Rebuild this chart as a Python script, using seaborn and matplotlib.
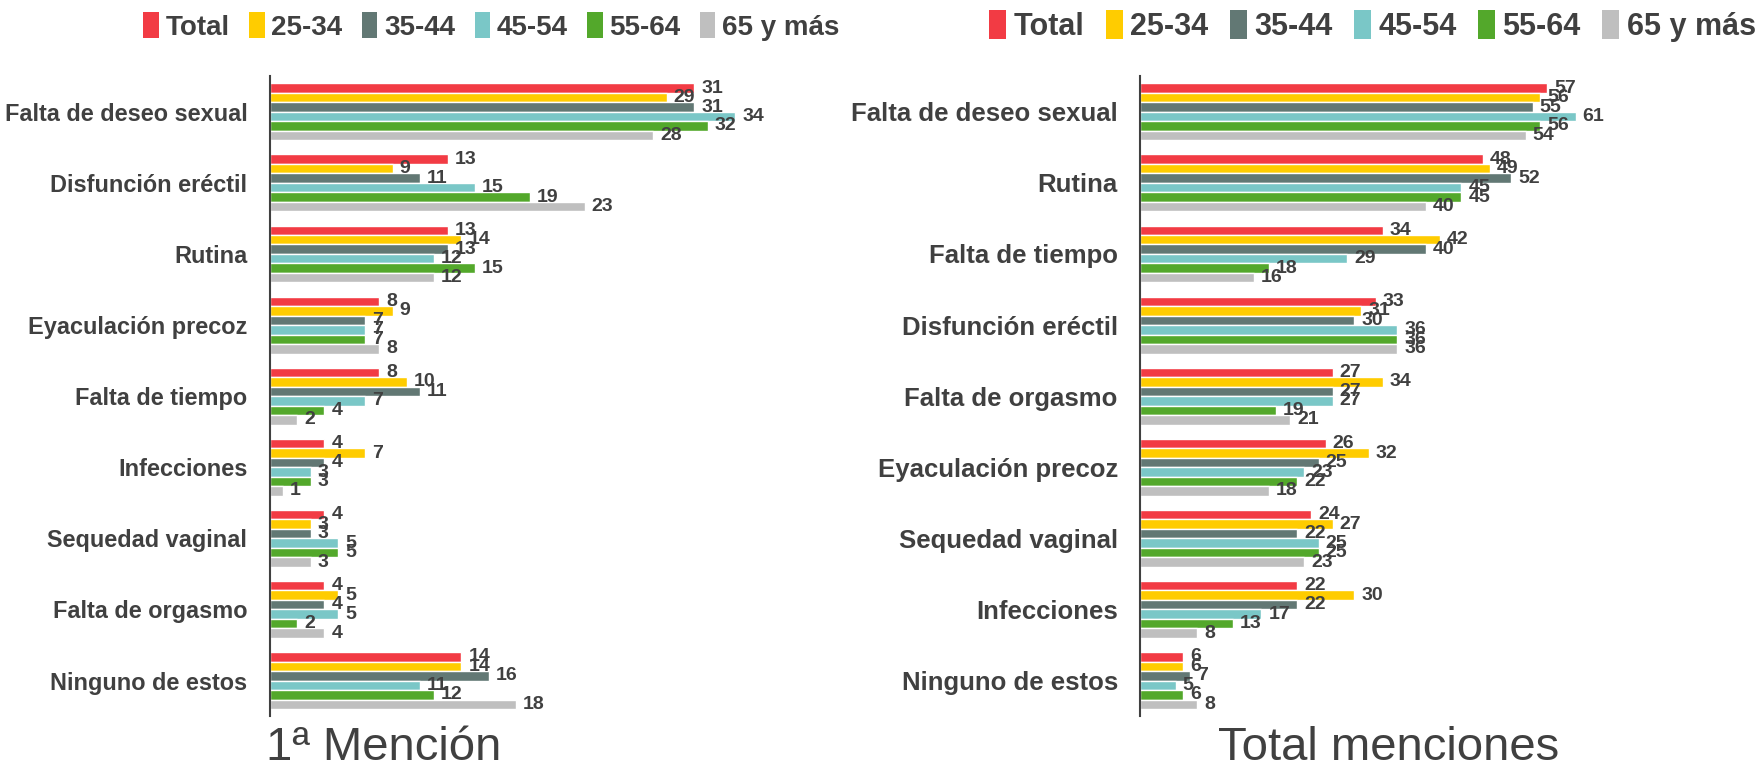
import pandas as pd
import numpy as np
import matplotlib
matplotlib.use("Agg")
import matplotlib.pyplot as plt
import seaborn as sns
from matplotlib.patches import Patch

# ===============================
# DATA
# ===============================

groups = ["Total", "25-34", "35-44", "45-54", "55-64", "65 y más"]
colors = ["#F23B44", "#FFCC00", "#627874", "#7AC7C7", "#53A82B", "#BFBFBF"]

cats_first = ["Falta de deseo sexual", "Disfunción eréctil", "Rutina",
              "Eyaculación precoz", "Falta de tiempo", "Infecciones",
              "Sequedad vaginal", "Falta de orgasmo", "Ninguno de estos"]
total_first = [31, 13, 13, 8, 8, 4, 4, 4, 14]
g2534_first = [29, 9, 14, 9, 10, 7, 3, 5, 14]
g3544_first = [31, 11, 13, 7, 11, 4, 3, 4, 16]
g4554_first = [34, 15, 12, 7, 7, 3, 5, 5, 11]
g5564_first = [32, 19, 15, 7, 4, 3, 5, 2, 12]
g65_first = [28, 23, 12, 8, 2, 1, 3, 4, 18]

cats_total = ["Falta de deseo sexual", "Rutina", "Falta de tiempo",
              "Disfunción eréctil", "Falta de orgasmo", "Eyaculación precoz",
              "Sequedad vaginal", "Infecciones", "Ninguno de estos"]
total_all = [57, 48, 34, 33, 27, 26, 24, 22, 6]
g2534_all = [56, 49, 42, 31, 34, 32, 27, 30, 6]
g3544_all = [55, 52, 40, 30, 27, 25, 22, 22, 7]
g4554_all = [61, 45, 29, 36, 27, 23, 25, 17, 5]
g5564_all = [56, 45, 18, 36, 19, 22, 25, 13, 6]
g65_all = [54, 40, 16, 36, 21, 18, 23, 8, 8]


def to_long(cats, series):
    rows = []
    for g, vals in zip(groups, series):
        for c, v in zip(cats, vals):
            rows.append({"motivo": c, "grupo": g, "valor": v})
    return pd.DataFrame(rows)


df_first = to_long(cats_first, [total_first, g2534_first, g3544_first,
                                g4554_first, g5564_first, g65_first])
df_total = to_long(cats_total, [total_all, g2534_all, g3544_all,
                                g4554_all, g5564_all, g65_all])

# ===============================
# STYLE
# ===============================

sns.set_style("white")
plt.rcParams["font.family"] = ["Liberation Sans", "DejaVu Sans"]
dark = "#404040"

fig = plt.figure(figsize=(17.62, 7.70), dpi=100)
ax1 = fig.add_axes([0.153, 0.070, 0.311, 0.831])
ax2 = fig.add_axes([0.647, 0.070, 0.304, 0.831])


def draw(ax, df, cats, xmax, label_size):
    sns.barplot(data=df, y="motivo", x="valor", hue="grupo", order=cats,
                hue_order=groups, palette=colors, orient="h", width=0.8,
                saturation=1, legend=False, ax=ax)
    for cont in ax.containers:
        ax.bar_label(cont, padding=5, fontsize=14, fontweight="bold", color=dark)
    ax.set_xlim(0, xmax)
    ax.set_ylim(len(cats) - 0.5, -0.5)
    ax.set_xlabel("")
    ax.set_ylabel("")
    ax.set_xticks([])
    for s in ["top", "right", "bottom"]:
        ax.spines[s].set_visible(False)
    ax.spines["left"].set_color(dark)
    ax.spines["left"].set_linewidth(1.5)
    ax.set_yticks(range(len(cats)))
    ax.set_yticklabels(cats, fontsize=label_size, fontweight="bold", color=dark)
    ax.tick_params(axis="y", which="major", length=0, pad=16)
    ax.set_yticks(np.arange(-0.5, len(cats), 1.0), minor=True)
    ax.tick_params(axis="y", which="minor", length=7, width=1.5, color=dark,
                   direction="out")


draw(ax1, df_first, cats_first, 40, 16.9)
draw(ax2, df_total, cats_total, 75, 18.5)

handles = [Patch(facecolor=c, edgecolor="none") for c in colors]
for xc, fs in [(0.279, 20), (0.779, 22)]:
    fig.legend(handles, groups, loc="center", bbox_to_anchor=(xc, 0.966), ncol=6,
               frameon=False, handlelength=0.55, handleheight=1.1,
               handletextpad=0.25, columnspacing=0.7,
               prop={"size": fs, "weight": "bold"}, labelcolor=dark)

fig.text(0.2175, 0.028, "1ª Mención", fontsize=34, color=dark,
         ha="center", va="center")
fig.text(0.788, 0.028, "Total menciones", fontsize=34, color=dark,
         ha="center", va="center")

fig.savefig("out.png", dpi=100)
